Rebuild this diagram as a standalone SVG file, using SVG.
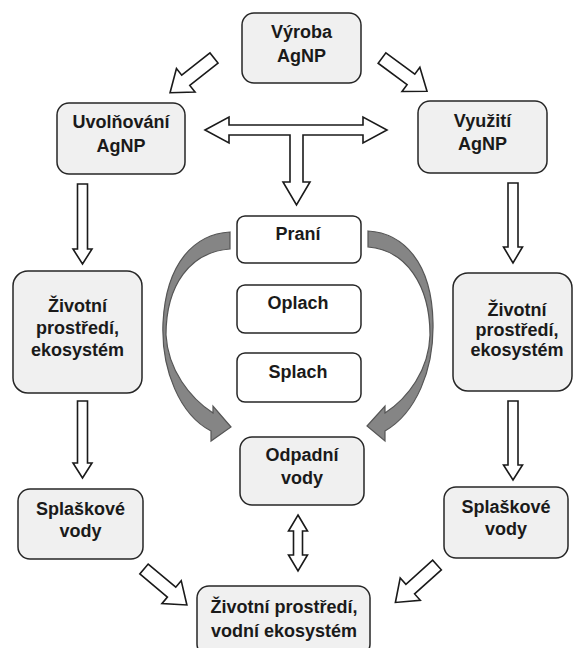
<svg xmlns="http://www.w3.org/2000/svg" width="574" height="648" viewBox="0 0 574 648">
<style>
.box{fill:#f0f0f0;stroke:#262626;stroke-width:1.5}
.wbox{fill:#ffffff;stroke:#262626;stroke-width:1.5}
.t{font-family:"Liberation Sans",Arial,sans-serif;font-weight:bold;font-size:18px;fill:#1a1a1a;text-anchor:middle}
.ar{fill:#ffffff;stroke:#1a1a1a;stroke-width:1.6;stroke-linejoin:miter}
.cur{fill:#858585;stroke:#555555;stroke-width:1.2}
</style>
<defs>
<path id="diag" d="M0,-6.5 L36,-6.5 L36,-15 L56,0 L36,15 L36,6.5 L0,6.5 Z"/>
</defs>
<rect width="574" height="648" fill="#ffffff"/>
<g id="connectors">
<use href="#diag" class="ar" transform="translate(214,58) rotate(141.7)"/>
<use href="#diag" class="ar" transform="translate(382,58) rotate(36.5)"/>
<use href="#diag" class="ar" transform="translate(144,569) rotate(40)"/>
<use href="#diag" class="ar" transform="translate(437,565) rotate(138)"/>
<path class="ar" d="M205,130 L229,117 L229,125 L363,125 L363,117 L387,130 L363,143 L363,135 L303,135 L303,182 L310,182 L296.5,205 L283,182 L290,182 L290,135 L229,135 L229,143 Z"/>
<path class="ar" d="M77.5,184 L87.5,184 L87.5,249 L92,249 L82.5,264 L73,249 L77.5,249 Z"/>
<path class="ar" d="M77.5,401 L87.5,401 L87.5,463 L92,463 L82.5,478 L73,463 L77.5,463 Z"/>
<path class="ar" d="M508,183 L518,183 L518,247 L522.5,247 L513,263 L503.5,247 L508,247 Z"/>
<path class="ar" d="M508,401 L518,401 L518,465 L522.5,465 L513,480 L503.5,465 L508,465 Z"/>
<path class="ar" d="M298,515 L307.5,531 L302.5,531 L302.5,555 L307.5,555 L298,571 L288.5,555 L293.5,555 L293.5,531 L288.5,531 Z"/>
<path class="cur" d="M230,232 C195,234 166,262 163,323 C161,370 180,415 211,431 L211,441 L231,427 L213,406 L213,413 C190,398 168,370 166,335 C166,285 190,252 230,249 Z"/>
<path class="cur" d="M368,231 C403,233 432,262 433,323 C434,370 416,413 385,431 L385,441 L367,426 L385,406 L385,413 C408,398 429,370 430,335 C430,285 406,250 368,247 Z"/>
</g>
<g id="vyroba"><rect class="box" x="242" y="13" width="119" height="70" rx="12"/><text class="t" x="301.5" y="38">Výroba</text><text class="t" x="301.5" y="62">AgNP</text></g>
<g id="uvolnovani"><rect class="box" x="57" y="103" width="128" height="71" rx="12"/><text class="t" x="121" y="128">Uvolňování</text><text class="t" x="121" y="152">AgNP</text></g>
<g id="vyuziti"><rect class="box" x="418" y="101" width="129" height="72" rx="12"/><text class="t" x="482.5" y="127">Využití</text><text class="t" x="482.5" y="150">AgNP</text></g>
<g id="zivotni-left"><rect class="box" x="13" y="271" width="129" height="122" rx="15"/><text class="t" x="77.5" y="312">Životní</text><text class="t" x="77.5" y="334">prostředí,</text><text class="t" x="77.5" y="356">ekosystém</text></g>
<g id="zivotni-right"><rect class="box" x="453" y="273" width="119" height="118" rx="15"/><text class="t" x="517" y="316">Životní</text><text class="t" x="517" y="336">prostředí,</text><text class="t" x="517" y="356">ekosystém</text></g>
<g id="prani"><rect class="wbox" x="237" y="216" width="124" height="47" rx="8"/><text class="t" x="298" y="240">Praní</text></g>
<g id="oplach"><rect class="wbox" x="237" y="285" width="124" height="48" rx="8"/><text class="t" x="298" y="309">Oplach</text></g>
<g id="splach"><rect class="wbox" x="237" y="353" width="124" height="49" rx="8"/><text class="t" x="298" y="378">Splach</text></g>
<g id="odpadni"><rect class="box" x="240" y="437" width="124" height="68" rx="12"/><text class="t" x="302" y="461">Odpadní</text><text class="t" x="302" y="484">vody</text></g>
<g id="splaskove-left"><rect class="box" x="18" y="489" width="125" height="70" rx="12"/><text class="t" x="80.5" y="515">Splaškové</text><text class="t" x="80.5" y="537">vody</text></g>
<g id="splaskove-right"><rect class="box" x="444" y="487" width="124" height="71" rx="12"/><text class="t" x="506" y="513">Splaškové</text><text class="t" x="506" y="535">vody</text></g>
<g id="zivotni-bottom"><rect class="box" x="197" y="586" width="173" height="70" rx="12"/><text class="t" x="284" y="613">Životní prostředí,</text><text class="t" x="284" y="637">vodní ekosystém</text></g>
</svg>
